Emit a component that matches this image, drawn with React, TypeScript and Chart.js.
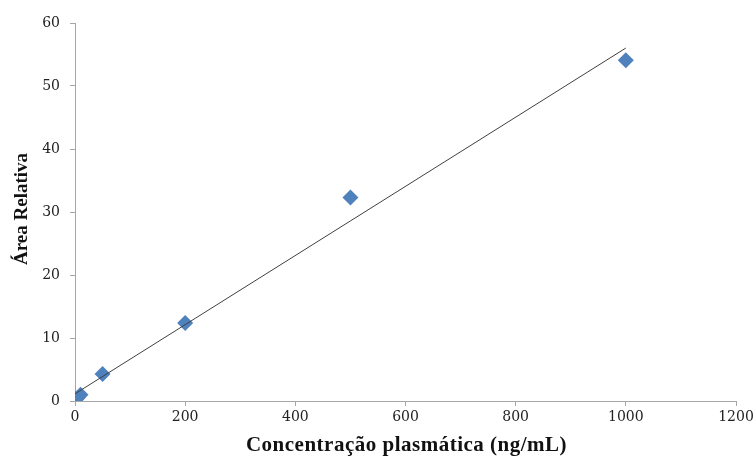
import React, { useEffect, useRef } from "react";
import { Chart, registerables } from "chart.js";

Chart.register(...registerables);

const concentrations = [1, 5, 10, 50, 200, 500, 1000];
const relativeAreas = [0.3, 0.5, 1.0, 4.3, 12.4, 32.3, 54.1];
const trendRange = [0, 1000];
const xTicks = [0, 200, 400, 600, 800, 1000, 1200];
const yTicks = [0, 10, 20, 30, 40, 50, 60];
const xTitle = "Concentração plasmática (ng/mL)";
const yTitle = "Área Relativa";

function linearFit(xs: number[], ys: number[]) {
  const n = xs.length;
  const mx = xs.reduce((a, b) => a + b, 0) / n;
  const my = ys.reduce((a, b) => a + b, 0) / n;
  let sxy = 0, sxx = 0;
  for (let i = 0; i < n; i++) {
    sxy += (xs[i] - mx) * (ys[i] - my);
    sxx += (xs[i] - mx) * (xs[i] - mx);
  }
  const slope = sxy / sxx;
  return { slope, intercept: my - slope * mx };
}

const titlePlugin = {
  id: "axisTitles",
  afterDraw(chart: any) {
    const { ctx, chartArea } = chart;
    ctx.save();
    ctx.fillStyle = "#111";
    ctx.textAlign = "center";
    ctx.textBaseline = "middle";
    ctx.font = "bold 21px 'Liberation Serif', serif";
    (ctx as any).letterSpacing = "0.5px";
    ctx.fillText(xTitle, (chartArea.left + chartArea.right) / 2 + 1, 446);
    (ctx as any).letterSpacing = "0px";
    ctx.font = "bold 19px 'Liberation Serif', serif";
    ctx.translate(22, 209);
    ctx.rotate(-Math.PI / 2);
    ctx.fillText(yTitle, 0, 0);
    ctx.restore();
  },
};

export default function App() {
  const ref = useRef<HTMLCanvasElement>(null);
  useEffect(() => {
    document.body.style.margin = "0";
    const { slope, intercept } = linearFit(concentrations, relativeAreas);
    const trend = trendRange.map((x) => ({ x, y: intercept + slope * x }));
    const points = concentrations.map((x, i) => ({ x, y: relativeAreas[i] }));
    const tickFont = { family: "'DejaVu Serif', serif", size: 14 };
    const chart = new Chart(ref.current!, {
      type: "scatter",
      data: {
        datasets: [
          {
            type: "line",
            data: trend,
            borderColor: "#404040",
            borderWidth: 1,
            pointRadius: 0,
            fill: false,
          } as any,
          {
            data: points,
            pointStyle: "rectRot",
            pointRadius: 8,
            backgroundColor: "#4F81BD",
            borderColor: "#4F81BD",
            borderWidth: 0,
          },
        ],
      },
      options: {
        animation: false,
        responsive: false,
        maintainAspectRatio: false,
        layout: { padding: { left: 0, right: 19, top: 23, bottom: 0 } },
        plugins: { legend: { display: false }, tooltip: { enabled: false } },
        scales: {
          x: {
            type: "linear",
            min: 0,
            max: 1200,
            afterBuildTicks: (s: any) => { s.ticks = xTicks.map((v) => ({ value: v })); },
            afterFit: (s: any) => { s.height = 56; s.paddingLeft = 0; s.paddingRight = 0; },
            border: { color: "#A6A6A6", width: 1 },
            grid: { drawOnChartArea: false, drawTicks: true, tickLength: 5, color: "#A6A6A6" },
            ticks: { color: "#222", font: tickFont, padding: 3, maxRotation: 0, callback: (v: any) => String(v) },
          },
          y: {
            type: "linear",
            min: 0,
            max: 60,
            afterBuildTicks: (s: any) => { s.ticks = yTicks.map((v) => ({ value: v })); },
            afterFit: (s: any) => { s.width = 75; s.paddingTop = 0; s.paddingBottom = 0; },
            border: { color: "#A6A6A6", width: 1 },
            grid: { drawOnChartArea: false, drawTicks: true, tickLength: 5, color: "#A6A6A6" },
            ticks: { color: "#222", font: tickFont, padding: 10, callback: (v: any) => String(v) },
          },
        },
      },
      plugins: [titlePlugin],
    });
    return () => chart.destroy();
  }, []);
  return (
    <div style={{ width: 755, height: 457, background: "#fff" }}>
      <canvas ref={ref} width={755} height={457} style={{ display: "block" }} />
    </div>
  );
}
